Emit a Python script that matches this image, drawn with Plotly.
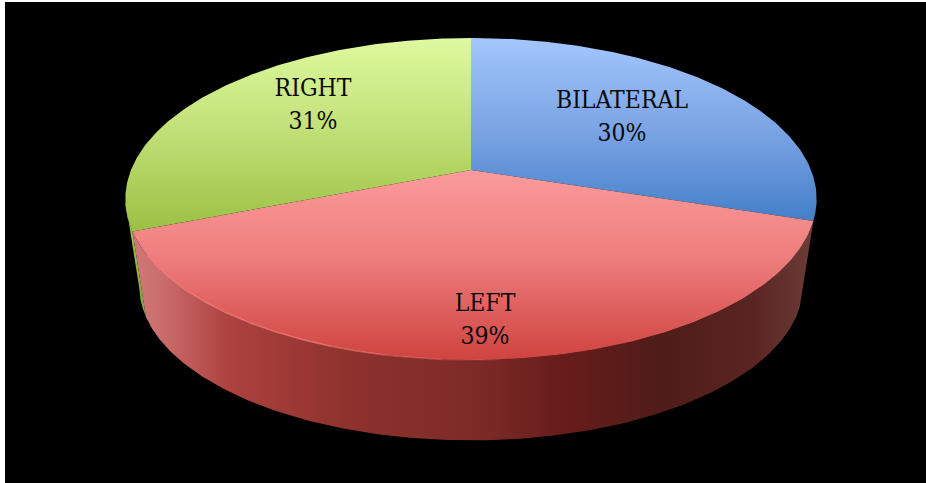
import numpy as np
import plotly.graph_objects as go

categories = ["BILATERAL", "LEFT", "RIGHT"]
percent = [30, 39, 31]
label_x = [622, 485, 313]
name_y = [102, 305, 90]
pct_y = [135, 338, 123]
# colours listed from the top of the picture downwards
top_grad = [
    [[0, "#a3c6fc"], [0.5, "#7ba4e4"], [1, "#447fc8"]],
    [[0, "#fb9b9b"], [0.45, "#ee7f7e"], [1, "#cf4340"]],
    [[0, "#dffa9f"], [0.5, "#bfdf75"], [1, "#9bc043"]],
]
green_side = [[0, "#9fc756"], [1, "#7fa73c"]]
side_stops = [[0, "#cf7878"], [0.04, "#cc6e6e"], [0.14, "#ad423f"], [0.31, "#8f322e"],
              [0.51, "#7c2a27"], [0.64, "#661c1a"], [0.78, "#4f1c19"], [0.91, "#5a2421"], [1, "#6a3c38"]]

CX, APEX_Y, C, A, K = 471.0, 170.0, 340.0, 155.8, 0.18
DROP, SCALE = 88.0, 0.96


def rim(theta_deg, scale=1.0, drop=0.0):
    t = np.radians(np.asarray(theta_deg, dtype=float))
    u, v = np.sin(t), -np.cos(t)
    w = 1 - K * v
    return CX + scale * C * u / w, APEX_Y + drop + scale * A * v / w


def arc(a, b):
    return np.linspace(a, b, 160)


def flipped(stops):
    # the y axis is reversed, so vertical gradients run from the bottom of the picture
    return [[1 - p, c] for p, c in reversed(stops)]


fig = go.Figure()
edges = np.cumsum([0] + percent) * 3.6

# sides (front wall of LEFT and sliver of RIGHT)
t = arc(edges[2], 259)
x1, y1 = rim(t)
x2, y2 = rim(t[::-1], SCALE, DROP)
fig.add_trace(go.Scatter(x=np.r_[x1, x2], y=np.r_[y1, y2], mode="lines", fill="toself",
                         line=dict(width=0), hoverinfo="skip",
                         fillgradient=dict(type="vertical", colorscale=flipped(green_side))))
t = arc(edges[1], edges[2])
x1, y1 = rim(t)
x2, y2 = rim(t[::-1], SCALE, DROP)
fig.add_trace(go.Scatter(x=np.r_[x1, x2], y=np.r_[y1, y2], mode="lines", fill="toself",
                         line=dict(width=0), hoverinfo="skip",
                         fillgradient=dict(type="horizontal", colorscale=side_stops)))

# top faces
for i, name in enumerate(categories):
    x, y = rim(arc(edges[i], edges[i + 1]))
    fig.add_trace(go.Scatter(x=np.r_[CX, x, CX], y=np.r_[APEX_Y, y, APEX_Y], mode="lines", fill="toself",
                             line=dict(width=0), hoverinfo="skip", name=name,
                             fillgradient=dict(type="vertical", colorscale=flipped(top_grad[i]))))

# pale highlight on the front rim, fading towards the middle
for a, b, alpha in [(176, 184, 0.2), (184, 192, 0.4), (192, 200, 0.6), (200, 240, 0.75)]:
    x, y = rim(arc(a, b))
    fig.add_trace(go.Scatter(x=x, y=y, mode="lines",
                             line=dict(width=1.5, color=f"rgba(250,130,125,{alpha})"),
                             hoverinfo="skip"))

font = dict(family="DejaVu Serif Condensed, DejaVu Serif", size=24.5, color="#0a0a0a")
fig.add_trace(go.Scatter(x=label_x, y=name_y, mode="text", text=categories,
                         textposition="middle center", textfont=font, hoverinfo="skip"))
fig.add_trace(go.Scatter(x=label_x, y=pct_y, mode="text", text=[f"{p}%" for p in percent],
                         textposition="middle center", textfont=font, hoverinfo="skip"))

fig.update_layout(
    width=926, height=483, showlegend=False,
    margin=dict(l=5, r=0, t=2, b=0),
    paper_bgcolor="white", plot_bgcolor="black",
    xaxis=dict(range=[5, 926], visible=False, fixedrange=True),
    yaxis=dict(range=[483, 2], visible=False, fixedrange=True),
)
fig.write_html("out.html", config=dict(displayModeBar=False),
               post_script="document.body.style.margin='0';document.documentElement.style.overflow='hidden';")
